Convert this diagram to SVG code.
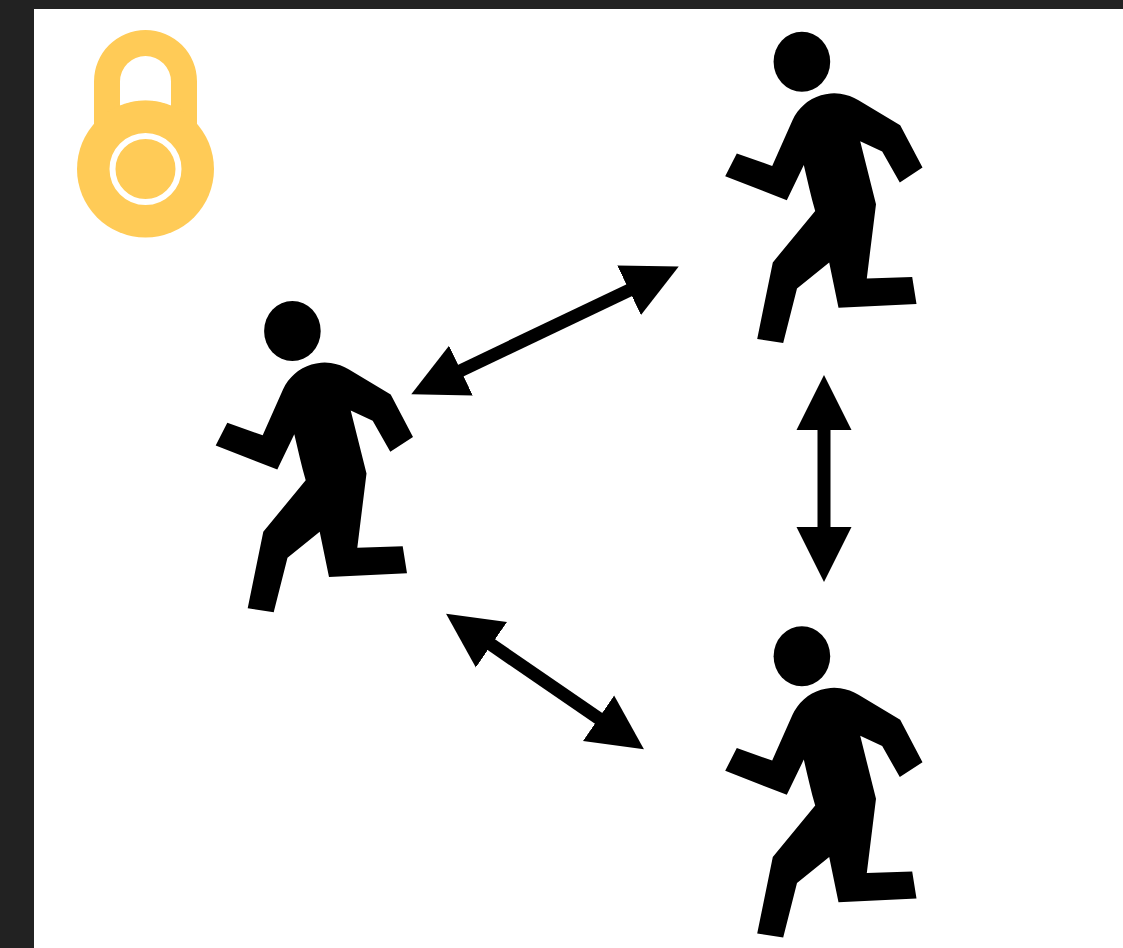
<svg xmlns="http://www.w3.org/2000/svg" width="1123" height="948" viewBox="0 0 1123 948">
<style>
.lockfill{fill:#ffcb57}
.link{stroke:#000;stroke-width:13;fill:none;marker-start:url(#head);marker-end:url(#head)}
</style>
<defs>
<marker id="head" markerUnits="userSpaceOnUse" markerWidth="56" markerHeight="56" viewBox="0 0 56 56" refX="1" refY="28" orient="auto-start-reverse"><path d="M0 0.500L55 28L0 55.500Z" fill="#000"/></marker>
<g id="runner">
<ellipse cx="292.400" cy="331" rx="28.300" ry="30"/>
<path d="M215.700 445.500L227.300 422.700L262.700 435.300L283 389.500A45.800 45.800 0 0 1 349 369.500L390.700 394.500L413 436.900L390.300 451.800L372.700 420.700L350.700 410.500L366.500 473.500L357.300 547.700L402.700 546.300L407 573.300L329 577L319.700 531.700L287.500 557.700L273.700 612.300L247.700 608.200L263.300 531.700L305.700 480.300C301.500 466 298 450 294.300 434.300L277.300 469.500Z"/>
</g>
</defs>
<rect width="1123" height="948" fill="#fff"/>
<rect width="1123" height="9" fill="#222"/>
<rect width="34" height="948" fill="#222"/>
<g id="lock">
<path class="lockfill" fill-rule="evenodd" d="M94 130V81.500A51.500 51.500 0 0 1 197 81.500V130ZM120 81.500V106A68 68 0 0 1 171 106V81.500A25.500 25.500 0 0 0 120 81.500Z"/>
<circle class="lockfill" cx="145.500" cy="169" r="68.500"/>
<circle cx="145.500" cy="169" r="33" fill="none" stroke="#fff" stroke-width="6"/>
</g>
<g id="runner-left"><use href="#runner"/></g>
<g id="runner-top"><use href="#runner" x="509.500" y="-269.300"/></g>
<g id="runner-bottom"><use href="#runner" x="509.500" y="325.300"/></g>
<g id="connectors">
<line class="link" x1="460" y1="371" x2="630" y2="289.800"/>
<line class="link" x1="824" y1="429" x2="824" y2="528"/>
<line class="link" x1="490.600" y1="644.200" x2="599.400" y2="718.800"/>
</g>
</svg>
